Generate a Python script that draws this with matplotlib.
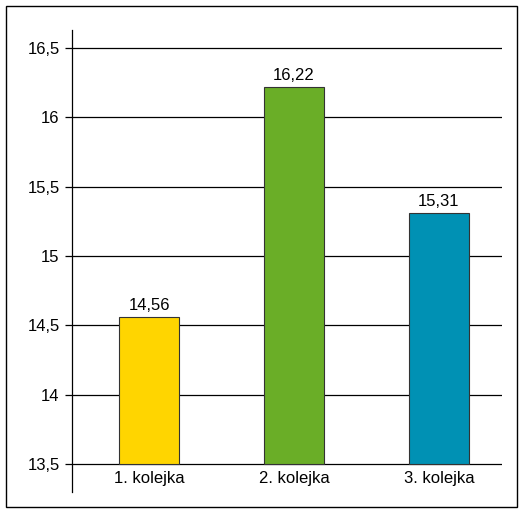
import matplotlib
matplotlib.use("Agg")
from matplotlib import pyplot as plt
from matplotlib.patches import Rectangle

categories = ["1. kolejka", "2. kolejka", "3. kolejka"]
values = [14.56, 16.22, 15.31]
colors = ["#FFD500", "#6AAE27", "#0091B4"]
yticks = [13.5, 14, 14.5, 15, 15.5, 16, 16.5]
ytick_labels = ["13,5", "14", "14,5", "15", "15,5", "16", "16,5"]

plt.rcParams["font.family"] = ["Liberation Sans Narrow", "Liberation Sans", "DejaVu Sans"]

fig = plt.figure(figsize=(5.23, 5.12), dpi=100)
fig.patches.append(Rectangle((0.0115, 0.0098), 0.977, 0.9785, transform=fig.transFigure,
                             fill=False, edgecolor="black", linewidth=1))

ax = fig.add_axes([0.1377, 0.0391, 0.822, 0.9023])
x = range(len(categories))
base = 13.5
ax.bar(x, [v - base for v in values], bottom=base, width=0.414, color=colors,
       edgecolor="#333333", linewidth=0.8, zorder=3)

for xi, v in zip(x, values):
    ax.annotate(f"{v:.2f}".replace(".", ","), (xi, v), xytext=(0, 3), textcoords="offset points",
                ha="center", va="bottom", fontsize=12)
    
for xi, c in zip(x, categories):
    ax.annotate(c, (xi, base), xytext=(0, -5), textcoords="offset points",
                ha="center", va="top", fontsize=12)

ax.set_xlim(-0.531, 2.434)
ax.set_ylim(13.298, 16.63)
ax.set_yticks(yticks)
ax.set_yticklabels(ytick_labels, fontsize=12)
ax.set_xticks([])
ax.yaxis.grid(True, color="black", linewidth=0.9, zorder=0)
ax.tick_params(axis="y", length=5, width=0.9, pad=4)
for s in ["top", "right", "bottom"]:
    ax.spines[s].set_visible(False)
ax.spines["left"].set_linewidth(0.9)

fig.savefig("out.png", dpi=100)
